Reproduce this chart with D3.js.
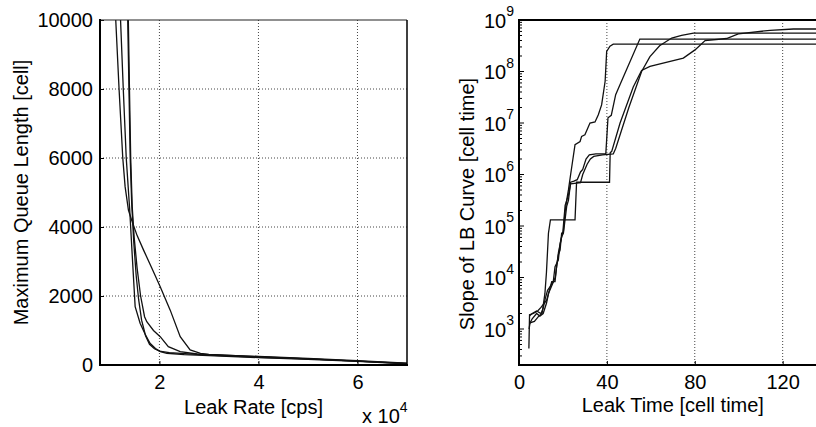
<!DOCTYPE html>
<html>
<head>
<meta charset="utf-8">
<script src="https://cdn.jsdelivr.net/npm/d3@7"></script>
<style>
  body { margin: 0; background: #fff; }
  text { font-family: "Liberation Sans", Arial, sans-serif; fill: #000; }
</style>
</head>
<body>
<svg id="chart" width="816" height="427"></svg>
<script>
// left panel: maximum queue length vs leak rate (cps, [rate, cells])
var queueRunA = [[11180,10000],[11850,8000],[12600,6000],[13070,5170],[13740,4490],[14600,4110],[15500,3750],[16800,3330],[18500,2800],[20160,2270],[22180,1590],[24200,820],[26200,435],[28300,338],[30000,310],[40000,240],[50000,180],[60000,115],[70000,45]];
var queueRunB = [[12150,10000],[12700,8000],[13300,6000],[14000,4500],[14500,3200],[15100,1690],[16100,1210],[17100,900],[18100,630],[19200,480],[20200,390],[21500,340],[25000,300],[30000,270],[40000,215],[50000,165],[60000,105],[70000,35]];
var queueRunC = [[13720,10000],[13950,8000],[14200,6000],[14500,4600],[14900,3700],[15500,2800],[16200,2000],[17000,1400],[17450,1256],[18800,1000],[20160,820],[21800,530],[24200,386],[27600,319],[30000,300],[40000,250],[50000,190],[60000,125],[70000,55]];
var queueRunD = [[13600,10000],[13850,8000],[14100,6000],[14400,4700],[14800,3600],[15300,2600],[15800,1900],[16400,1300],[17200,850],[18000,600],[19000,470],[20000,400],[22000,360],[26000,320],[30000,290],[40000,225],[50000,175],[60000,110],[70000,40]];
var queueRuns = [queueRunA, queueRunB, queueRunC, queueRunD];
var leakRateTicks = [20000, 40000, 60000];
var queueTicks = [0, 2000, 4000, 6000, 8000, 10000];

// right panel: slope of LB curve vs leak time ([cell time, cell time])
var slopeRun1 = [[4.5,420],[4.8,1900],[6.5,2000],[8.5,2240],[10,2630],[11.5,3160],[12.6,3630],[14.9,8320],[16.4,8320],[17.1,1.62e4],[17.9,2.75e4],[18.7,3.39e4],[19.4,7.24e4],[20.2,7.76e4],[20.9,1.78e5],[21.7,3.16e5],[22.5,5.01e5],[23.5,1.0e6],[25.5,3.8e6],[27.8,4.37e6],[28.5,5.5e6],[30,5.89e6],[32.3,1e7],[34.6,1.05e7],[36.1,1.45e7],[37.6,2.24e7],[39.2,6.46e7],[39.9,2.45e8],[41.4,3.09e8],[42.9,3.39e8],[140,3.39e8]];
var slopeRun2 = [[4.6,1000],[5,1320],[7,1410],[9,1780],[10.5,2000],[11.8,4900],[12.5,1.26e4],[13.4,7.24e4],[14.3,1.32e5],[25.5,1.32e5],[26.2,7.08e5],[41.2,7.08e5],[41.5,2.63e6],[42.2,2.82e6],[46,1e7],[52,5.0e7],[55.8,1.05e8],[59.6,1.26e8],[74.8,1.82e8],[80.1,2.63e8],[84.7,3.98e8],[94.5,4.37e8],[99.8,5.37e8],[114.3,6.31e8],[124.9,6.68e8],[140,6.68e8]];
var slopeRun3 = [[4.7,1780],[6,2000],[8,2240],[10,2000],[11,2510],[12,3980],[13,5620],[14.1,6610],[15.6,8320],[16.4,1.62e4],[17.9,2.19e4],[18.7,4.57e4],[19.4,6.17e4],[20.2,7.24e4],[21.7,2.40e5],[22.5,3.16e5],[23.5,7.08e5],[25,7.41e5],[26.5,7.94e5],[28,1.12e6],[29,1.26e6],[30.5,2.0e6],[32,2.40e6],[35,2.51e6],[39.5,2.51e6],[40.5,1.26e7],[42,1.41e7],[44,3.55e7],[46,5.62e7],[55,4.27e8],[140,4.27e8]];
var slopeRun4 = [[4.8,1260],[6,1580],[8,2000],[9.5,1780],[11,2000],[12.5,3160],[13.5,5010],[15,7080],[16.5,1e4],[18,3.16e4],[19,5.01e4],[20,7.94e4],[21,2.51e5],[22.5,3.98e5],[23.5,6.61e5],[28,6.92e5],[29,1e6],[31,1.58e6],[32.5,2.0e6],[34,2.24e6],[38,2.40e6],[42.9,2.5e6],[44,3.2e6],[50,2.0e7],[55.8,1e8],[59.6,1.95e8],[64,3.16e8],[69.5,4.47e8],[74,5.01e8],[79.4,5.58e8],[140,5.58e8]];
var slopeRuns = [slopeRun1, slopeRun2, slopeRun3, slopeRun4];
var leakTimeTicks = [0, 40, 80, 120];
var slopeDecades = [1e3, 1e4, 1e5, 1e6, 1e7, 1e8, 1e9];

var svg = d3.select("#chart");
var plotTop = 20, plotBottom = 365;

function styleAxis(g) {
    g.select(".domain").remove();
    g.selectAll(".tick line").attr("stroke", "#000").attr("stroke-width", 1);
    g.selectAll(".tick text").attr("font-size", 20).attr("font-family", "Liberation Sans, Arial, sans-serif");
}

// ---------- left panel ----------
var xRate = d3.scaleLinear().domain([8000, 70000]).range([100, 407]);
var yQueue = d3.scaleLinear().domain([0, 10000]).range([plotBottom, plotTop]);

var left = svg.append("g");
left.append("clipPath").attr("id", "clipL").append("rect")
    .attr("x", xRate.range()[0]).attr("y", plotTop)
    .attr("width", xRate.range()[1] - xRate.range()[0]).attr("height", plotBottom - plotTop);

left.append("g").selectAll("line.vg").data(leakRateTicks).enter().append("line")
    .attr("x1", function (d) { return xRate(d); }).attr("x2", function (d) { return xRate(d); })
    .attr("y1", plotTop).attr("y2", plotBottom)
    .attr("stroke", "#444").attr("stroke-width", 1).attr("stroke-dasharray", "1,2");
left.append("g").selectAll("line.hg").data(queueTicks.slice(1, -1)).enter().append("line")
    .attr("x1", xRate.range()[0]).attr("x2", xRate.range()[1])
    .attr("y1", function (d) { return yQueue(d); }).attr("y2", function (d) { return yQueue(d); })
    .attr("stroke", "#444").attr("stroke-width", 1).attr("stroke-dasharray", "1,2");

var queueLine = d3.line()
    .x(function (d) { return xRate(d[0]); })
    .y(function (d) { return yQueue(d[1]); });
left.append("g").attr("clip-path", "url(#clipL)").selectAll("path").data(queueRuns).enter().append("path")
    .attr("d", queueLine).attr("fill", "none").attr("stroke", "#111").attr("stroke-width", 1.3);

left.append("g").attr("transform", "translate(0," + plotBottom + ")")
    .call(d3.axisBottom(xRate).tickValues(leakRateTicks).tickSize(-4).tickPadding(10)
        .tickFormat(function (d) { return d / 1e4; }))
    .call(styleAxis);
left.append("g").attr("transform", "translate(" + xRate.range()[0] + ",0)")
    .call(d3.axisLeft(yQueue).tickValues(queueTicks).tickSize(-4).tickPadding(7).tickFormat(d3.format("d")))
    .call(styleAxis);

// frame
left.append("line").attr("x1", 100).attr("x2", 407).attr("y1", plotTop).attr("y2", plotTop).attr("stroke", "#222").attr("stroke-width", 1.2);
left.append("line").attr("x1", 407).attr("x2", 407).attr("y1", plotTop).attr("y2", plotBottom).attr("stroke", "#000").attr("stroke-width", 1.5);
left.append("line").attr("x1", 100).attr("x2", 100).attr("y1", plotTop - 1).attr("y2", plotBottom + 1).attr("stroke", "#000").attr("stroke-width", 2);
left.append("line").attr("x1", 99).attr("x2", 408).attr("y1", plotBottom).attr("y2", plotBottom).attr("stroke", "#000").attr("stroke-width", 2);

left.append("text").attr("x", 253.5).attr("y", 414).attr("text-anchor", "middle").attr("font-size", 20)
    .text("Leak Rate [cps]");
var mult = left.append("text").attr("x", 362).attr("y", 422.7).attr("font-size", 20);
mult.append("tspan").text("x 10");
mult.append("tspan").attr("dy", -11).attr("font-size", 14).text("4");
left.append("text").attr("transform", "translate(27.5,192.5) rotate(-90)").attr("text-anchor", "middle")
    .attr("font-size", 20).text("Maximum Queue Length [cell]");

// ---------- right panel ----------
var xTime = d3.scaleLinear().domain([0, 140]).range([519, 826.6]);
var ySlope = d3.scaleLog().domain([200, 1e9]).range([plotBottom, plotTop]);

var right = svg.append("g");
right.append("clipPath").attr("id", "clipR").append("rect")
    .attr("x", 519).attr("y", plotTop).attr("width", 308).attr("height", plotBottom - plotTop);

right.append("g").selectAll("line").data(leakTimeTicks.slice(1)).enter().append("line")
    .attr("x1", function (d) { return xTime(d); }).attr("x2", function (d) { return xTime(d); })
    .attr("y1", plotTop).attr("y2", plotBottom)
    .attr("stroke", "#444").attr("stroke-width", 1).attr("stroke-dasharray", "1,2");

var slopeLine = d3.line()
    .x(function (d) { return xTime(d[0]); })
    .y(function (d) { return ySlope(d[1]); });
right.append("g").attr("clip-path", "url(#clipR)").selectAll("path").data(slopeRuns).enter().append("path")
    .attr("d", slopeLine).attr("fill", "none").attr("stroke", "#111").attr("stroke-width", 1.3);

right.append("g").attr("transform", "translate(0," + plotBottom + ")")
    .call(d3.axisBottom(xTime).tickValues(leakTimeTicks).tickSize(-4).tickPadding(10))
    .call(styleAxis);

// log ticks: major at decades, minor in between
var minorTicks = ySlope.ticks().filter(function (v) { return slopeDecades.indexOf(v) < 0; });
right.append("g").selectAll("line.minor").data(minorTicks).enter().append("line")
    .attr("x1", 519).attr("x2", 522)
    .attr("y1", function (d) { return ySlope(d); }).attr("y2", function (d) { return ySlope(d); })
    .attr("stroke", "#000").attr("stroke-width", 1);
right.append("g").selectAll("line.major").data(slopeDecades).enter().append("line")
    .attr("x1", 519).attr("x2", 524)
    .attr("y1", function (d) { return ySlope(d); }).attr("y2", function (d) { return ySlope(d); })
    .attr("stroke", "#000").attr("stroke-width", 1);
var decadeLabels = right.append("g").selectAll("text").data(slopeDecades).enter().append("text")
    .attr("x", 514).attr("y", function (d) { return ySlope(d) + 7.5; })
    .attr("text-anchor", "end").attr("font-size", 20);
decadeLabels.append("tspan").text("10");
decadeLabels.append("tspan").attr("dy", -11.5).attr("font-size", 14)
    .text(function (d) { return Math.round(Math.log10(d)); });

right.append("line").attr("x1", 519).attr("x2", 816).attr("y1", plotTop).attr("y2", plotTop).attr("stroke", "#000").attr("stroke-width", 1.8);
right.append("line").attr("x1", 519).attr("x2", 519).attr("y1", plotTop - 1).attr("y2", plotBottom + 1).attr("stroke", "#000").attr("stroke-width", 2);
right.append("line").attr("x1", 518).attr("x2", 816).attr("y1", plotBottom).attr("y2", plotBottom).attr("stroke", "#000").attr("stroke-width", 2);

right.append("text").attr("x", 672.8).attr("y", 411.5).attr("text-anchor", "middle").attr("font-size", 20)
    .text("Leak Time [cell time]");
right.append("text").attr("transform", "translate(473.6,204) rotate(-90)").attr("text-anchor", "middle")
    .attr("font-size", 20).text("Slope of LB Curve [cell time]");
</script>
</body>
</html>
